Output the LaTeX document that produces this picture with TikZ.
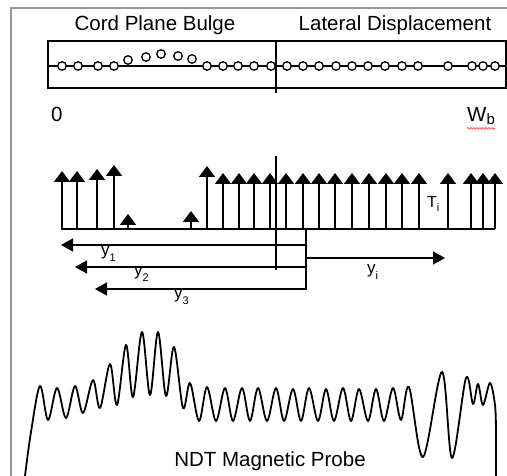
\documentclass[tikz,border=0pt]{standalone}
\usepackage{fontspec}
\setmainfont{Liberation Sans}
\usetikzlibrary{arrows.meta, positioning, decorations.pathmorphing}
\definecolor{framegray}{RGB}{150,150,150}
\newcommand\lowidx[2][-6pt]{\raisebox{#1}{\fontsize{11}{12}\selectfont #2}}

\begin{document}
\begin{tikzpicture}[
  x=1pt, y=-1pt,
  every node/.style={inner sep=0pt, font=\fontsize{20.5}{24}\selectfont},
  cord/.style={draw, circle, fill=white, minimum size=8.5pt, line width=1.3pt},
  pull/.style={line width=1.8pt, -{Triangle[width=16pt,length=11pt]}},
  reach/.style={line width=1.6pt, -{Triangle[width=13pt,length=12pt]}},
  lbl/.style={anchor=base west, font=\fontsize{17}{20}\selectfont},
  signal/.style={line width=1.8pt, line join=round},
]
\useasboundingbox (0,0) rectangle (507,476);
% outer frame
\draw[framegray, line width=2pt] (11,476) -- (11,8) -- (508,8);

% cord plane
\node[anchor=base] (bulge) at (155,31) {Cord Plane Bulge};
\node[anchor=base] (lateral) at (395,31) {Lateral Displacement};
\draw[line width=1.6pt] (48,41) rectangle (506,88);
\coordinate (ml) at (48,66);
\coordinate (mr) at (506,66);
\draw[line width=1.7pt] (ml) -- (mr);
\coordinate (dt) at (276,41);
\coordinate (db) at (276,93);
\draw[line width=1.7pt] (dt) -- (db);
\foreach \x/\y [count=\i] in {62/66, 78/66, 98/66, 114/66, 128/60, 146/57,
    161/54, 178/56, 192/59, 207/66, 223/66, 238/66, 254/66, 271/66, 287/66,
    303/66, 319/66, 336/66, 352/66, 368/66, 385/66, 402/66, 418/66, 448/66,
    472/66, 483/66, 495/66}
  \node[cord] (c\i) at (\x,\y) {};

\node[anchor=base west] (zero) at (51,122) {0};
\node[anchor=base west] (wb) at (467,122) {W\lowidx[-3pt]{\fontsize{15}{18}\selectfont b}};
\draw[red!80, line width=0.6pt, decorate,
  decoration={snake, amplitude=0.8pt, segment length=3pt}]
  ([yshift=-3pt]wb.south west) -- ([yshift=-3pt]wb.south east);

% cord tensions
\coordinate (base l) at (61,229);
\coordinate (base r) at (495,229);
\draw[line width=1.8pt] (base l) -- (base r);
\foreach \x/\top in {62/171, 77/171, 97/169, 114/165, 128/214, 191/211,
    207/166, 223/173, 239/173, 254/173, 270/173, 286/173, 303/173, 319/173,
    335/173, 352/173, 369/173, 386/173, 402/173, 419/173, 448/173, 471/173,
    483/173, 495/173}
  \draw[pull] (\x,229) -- (\x,\top);
\node[anchor=base west, font=\fontsize{16}{18}\selectfont] (ti) at (427,208)
  {T\lowidx[-4pt]{i}};

% distances
\coordinate (mt) at (276,156);
\coordinate (mb) at (276,270);
\draw[line width=1.6pt] (mt) -- (mb);
\coordinate (b0) at (306,229);
\coordinate (b3) at (306,290);
\draw[line width=1.6pt] (b0) -- (b3);
\foreach \i/\y/\tip in {1/245/61, 2/267/75, 3/289/95} {
  \coordinate (s\i) at (306,\y);
  \coordinate (t\i) at (\tip,\y);
  \draw[reach] (s\i) -- (t\i);
}
\coordinate (sy) at (306,258);
\coordinate (ty) at (445,258);
\draw[reach] (sy) -- (ty);
\node[lbl] (y1) at (101,256) {y\lowidx{1}};
\node[lbl] (y2) at (134,276) {y\lowidx{2}};
\node[lbl] (y3) at (174,299) {y\lowidx{3}};
\node[lbl] (yi) at (367,274) {y\lowidx{i}};

% probe signal
\draw[signal] plot[smooth, tension=0.55] coordinates {
  (25,476) (31,432) (40,386) (48,420) (57,388) (66,418) (75,386) (83,413)
  (93,380) (100,408) (110,364) (117,405) (126,345) (133,397) (142,332)
  (150,395) (158,332) (166,396) (174,347) (183,408) (190,383) (199,421)
  (207,387) (216,421) (225,388) (233,421) (242,388) (250,421) (258,388)
  (267,421) (276,388) (284,421) (293,389) (301,421) (309,388) (318,421)
  (326,389) (334,421) (343,388) (351,421) (359,389) (368,421) (376,389)
  (384,421) (393,388) (401,420) (409,387) (423,457) (442,372) (452,458)
  (466,378) (473,404) (478,384) (483,405) (490,383) (495,405) (496,430)}
  -- (496,476);
\node[anchor=base] (probe) at (270,467) {NDT Magnetic Probe};
\end{tikzpicture}
\end{document}
